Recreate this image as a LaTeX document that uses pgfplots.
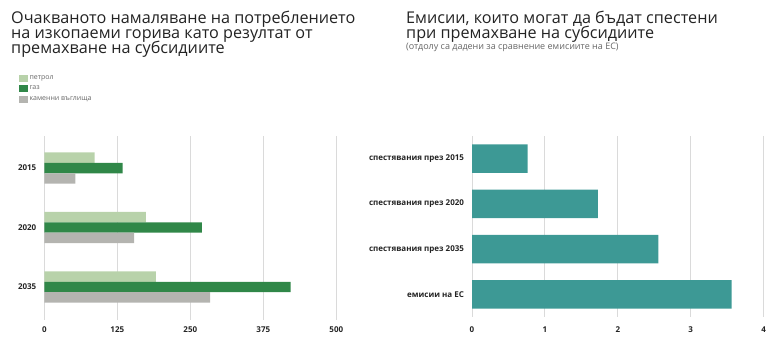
\documentclass[border=0pt]{standalone}
\usepackage{pgfplots}
\pgfplotsset{compat=1.18}
\usepackage{fontspec}
\setmainfont{Open Sans}[Language=Bulgarian]
\definecolor{petrol}{RGB}{184,210,170}
\definecolor{gaz}{RGB}{48,135,72}
\definecolor{coal}{RGB}{180,180,176}
\definecolor{teal}{RGB}{61,153,149}
\definecolor{gridc}{RGB}{218,218,218}
\definecolor{axc}{RGB}{110,110,110}
\definecolor{txt}{RGB}{35,35,35}
\pgfplotsset{
  mybase/.style={
    scale only axis,
    axis line style={draw=none},
    tick style={draw=none},
    major tick length=0pt,
    xmajorgrids,
    major grid style={gridc, line width=1pt},
    extra x ticks={0},
    extra x tick labels={0},
    extra x tick style={grid style={axc, line width=1pt}},
    ticklabel style={font=\fontsize{8}{9}\selectfont\bfseries, text=txt},
    yticklabel style={xshift=-4.5pt},
    /pgf/number format/assume math mode=true,
    clip=false,
  }
}
\begin{document}
\begin{tikzpicture}[x=1pt,y=1pt]
\useasboundingbox (0pt,0pt) rectangle (780pt,344pt);
% Titles
\node[anchor=base west, inner sep=0, text=txt, font=\fontsize{16.2}{15}\selectfont] at (11pt,320pt) {Очакваното намаляване на потреблението};
\node[anchor=base west, inner sep=0, text=txt, font=\fontsize{16.2}{15}\selectfont] at (11pt,305pt) {на изкопаеми горива като резултат от};
\node[anchor=base west, inner sep=0, text=txt, font=\fontsize{16.2}{15}\selectfont] at (11pt,290pt) {премахване на субсидиите};
\node[anchor=base west, inner sep=0, text=txt, font=\fontsize{16.2}{15}\selectfont] at (406pt,320pt) {Емисии, които могат да бъдат спестени};
\node[anchor=base west, inner sep=0, text=txt, font=\fontsize{16.2}{15}\selectfont] at (406pt,305pt) {при премахване на субсидиите};
\node[anchor=base west, inner sep=0, text=black!60, font=\fontsize{9}{10}\selectfont] at (406pt,294pt) {(отдолу са дадени за сравнение емисиите на ЕС)};

% Left chart
\begin{axis}[mybase,
  at={(44.3pt,24pt)}, anchor=south west,
  width=292pt, height=184pt,
  xmin=0, xmax=500,
  ymin=-0.555, ymax=2.54,
  xtick={125,250,375,500},
  xticklabel style={yshift=-3.5pt},
  ytick={0,1,2},
  yticklabels={2035,2020,2015},
  xbar, bar width=10.4pt,
  legend style={at={(-26pt,1.34)}, anchor=north west, draw=none, fill=none,
    font=\fontsize{7}{8}\selectfont, text=black!60, row sep=1.2pt,
    inner sep=0pt, legend cell align=left},
  legend image code/.code={\fill[#1] (0pt,-3.5pt) rectangle (9pt,3.5pt);},
]
\addplot[fill=petrol, draw=none, bar shift=10.4pt] coordinates {(86,2) (174,1) (191,0)};
\addplot[fill=gaz, draw=none, bar shift=0pt] coordinates {(134,2) (270,1) (422,0)};
\addplot[fill=coal, draw=none, bar shift=-10.4pt] coordinates {(53,2) (154,1) (284,0)};
\legend{петрол, газ, каменни въглища}
\end{axis}

% Right chart
\begin{axis}[mybase,
  at={(472pt,27pt)}, anchor=south west,
  width=291.7pt, height=181pt,
  xmin=0, xmax=4,
  ymin=-0.5, ymax=3.5,
  xtick={1,2,3,4},
  xticklabel style={yshift=-6.5pt},
  ytick={0,1,2,3},
  yticklabels={емисии на ЕС, спестявания през 2035, спестявания през 2020, спестявания през 2015},
  xbar, bar width=28.3pt,
]
\addplot[fill=teal, draw=none] coordinates {(3.56,0) (2.557,1) (1.726,2) (0.763,3)};
\end{axis}
\end{tikzpicture}
\end{document}
